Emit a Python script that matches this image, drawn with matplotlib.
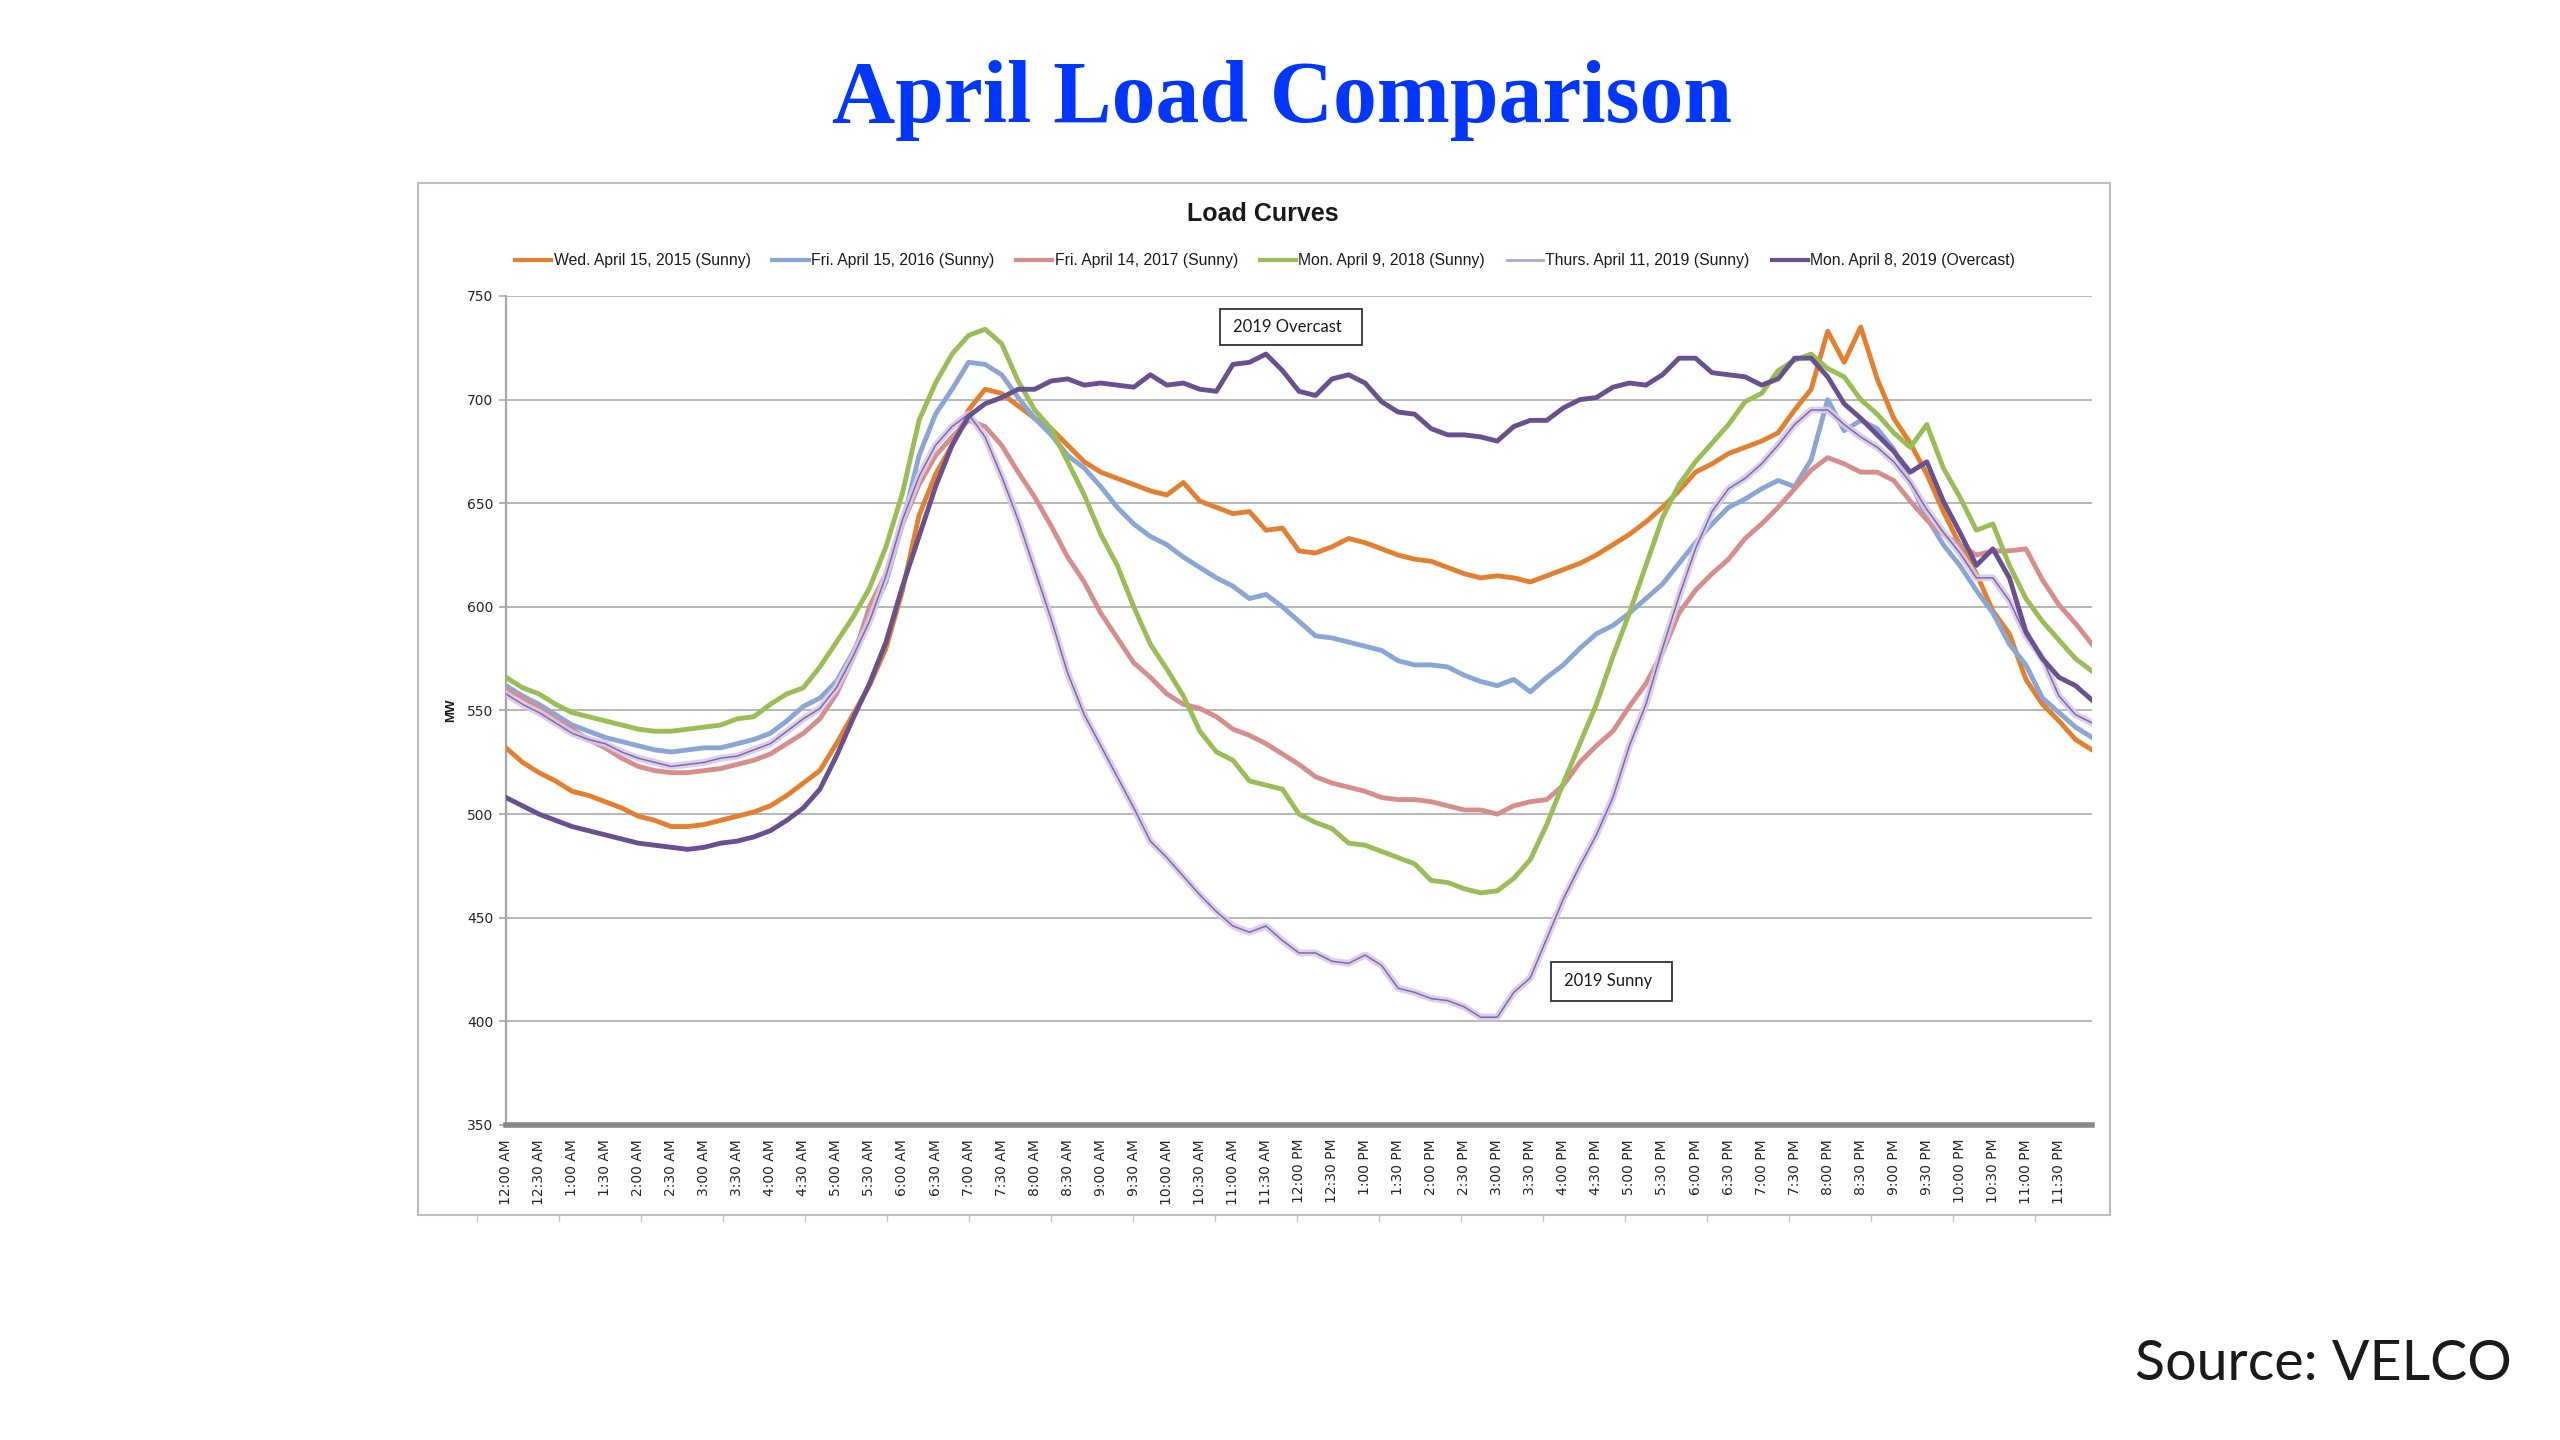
import numpy as np
import matplotlib
matplotlib.use("Agg")
import matplotlib.pyplot as plt
from matplotlib.lines import Line2D
from matplotlib.patches import Rectangle

# ---------------- data (MW, every 15 minutes from 12:00 AM to 12:00 AM) ----------------
hours = np.arange(97) * 0.25

load_2015 = [532, 525, 520, 516, 511, 509, 506, 503, 499, 497, 494, 494, 495, 497, 499, 501,
             504, 509, 515, 521, 534, 548, 562, 580, 608, 644, 664, 678, 695, 705, 703, 697,
             691, 686, 678, 670, 665, 662, 659, 656, 654, 660, 651, 648, 645, 646, 637, 638,
             627, 626, 629, 633, 631, 628, 625, 623, 622, 619, 616, 614, 615, 614, 612, 615,
             618, 621, 625, 630, 635, 641, 648, 656, 665, 669, 674, 677, 680, 684, 695, 705,
             733, 718, 735, 710, 691, 679, 664, 646, 630, 616, 598, 587, 565, 553, 545, 536, 531]

load_2016 = [562, 557, 553, 548, 543, 540, 537, 535, 533, 531, 530, 531, 532, 532, 534, 536,
             539, 545, 552, 556, 564, 578, 595, 612, 640, 673, 693, 705, 718, 717, 712, 701,
             691, 683, 673, 667, 658, 648, 640, 634, 630, 624, 619, 614, 610, 604, 606, 600,
             593, 586, 585, 583, 581, 579, 574, 572, 572, 571, 567, 564, 562, 565, 559, 566,
             572, 580, 587, 591, 597, 604, 611, 621, 631, 640, 648, 652, 657, 661, 658, 671,
             700, 685, 690, 686, 676, 660, 643, 630, 620, 608, 597, 582, 572, 556, 549, 542, 537]

load_2017 = [560, 556, 551, 546, 541, 536, 532, 527, 523, 521, 520, 520, 521, 522, 524, 526,
             529, 534, 539, 546, 558, 575, 600, 616, 640, 659, 673, 682, 690, 687, 678, 665,
             653, 639, 624, 612, 597, 585, 573, 566, 558, 553, 551, 547, 541, 538, 534, 529,
             524, 518, 515, 513, 511, 508, 507, 507, 506, 504, 502, 502, 500, 504, 506, 507,
             514, 525, 533, 540, 552, 563, 578, 597, 608, 616, 623, 633, 640, 648, 657, 666,
             672, 669, 665, 665, 661, 651, 642, 635, 630, 625, 627, 627, 628, 613, 601, 592, 582]

load_2018 = [566, 561, 558, 553, 549, 547, 545, 543, 541, 540, 540, 541, 542, 543, 546, 547,
             553, 558, 561, 571, 583, 595, 609, 629, 655, 690, 708, 722, 731, 734, 727, 709,
             695, 686, 670, 654, 635, 620, 600, 582, 570, 557, 540, 530, 526, 516, 514, 512,
             500, 496, 493, 486, 485, 482, 479, 476, 468, 467, 464, 462, 463, 469, 478, 495,
             515, 534, 553, 576, 597, 620, 643, 659, 670, 679, 688, 699, 703, 714, 719, 722,
             715, 711, 700, 693, 684, 677, 688, 667, 653, 637, 640, 620, 604, 593, 584, 575, 569]

load_2019_sunny = [558, 553, 549, 544, 539, 536, 534, 530, 527, 525, 523, 524, 525, 527, 528, 531,
                   534, 540, 546, 551, 561, 576, 593, 615, 642, 663, 678, 687, 693, 682, 663, 642,
                   618, 594, 568, 548, 533, 518, 503, 487, 479, 470, 461, 453, 446, 443, 446, 439,
                   433, 433, 429, 428, 432, 427, 416, 414, 411, 410, 407, 402, 402, 414, 421, 440,
                   459, 475, 490, 508, 533, 553, 580, 605, 628, 646, 657, 662, 669, 678, 688, 695,
                   695, 688, 682, 677, 670, 660, 647, 636, 626, 614, 614, 603, 586, 575, 557, 548, 544]

load_2019_overcast = [508, 504, 500, 497, 494, 492, 490, 488, 486, 485, 484, 483, 484, 486, 487, 489,
                      492, 497, 503, 512, 528, 546, 563, 583, 610, 634, 658, 678, 692, 698, 701, 705,
                      705, 709, 710, 707, 708, 707, 706, 712, 707, 708, 705, 704, 717, 718, 722, 714,
                      704, 702, 710, 712, 708, 699, 694, 693, 686, 683, 683, 682, 680, 687, 690, 690,
                      696, 700, 701, 706, 708, 707, 712, 720, 720, 713, 712, 711, 707, 710, 720, 720,
                      711, 698, 691, 683, 675, 665, 670, 651, 636, 620, 628, 614, 588, 575, 566, 562, 555]

series_labels = ["Wed. April 15, 2015 (Sunny)", "Fri. April 15, 2016 (Sunny)",
                 "Fri. April 14, 2017 (Sunny)", "Mon. April 9, 2018 (Sunny)",
                 "Thurs. April 11, 2019 (Sunny)", "Mon. April 8, 2019 (Overcast)"]

tick_hours = np.arange(48) * 0.5
def fmt_time(h):
    hh = int(h)
    mm = int(round((h - hh) * 60))
    ampm = "AM" if hh < 12 else "PM"
    h12 = hh % 12
    h12 = 12 if h12 == 0 else h12
    return f"{h12}:{mm:02d} {ampm}"
tick_labels = [fmt_time(h) for h in tick_hours]

y_ticks = [350, 400, 450, 500, 550, 600, 650, 700, 750]

# ---------------- styling ----------------
W, H = 2560, 1440
def fx(x):
    return x / W
def fy(y):
    return 1 - y / H

c_orange = "#E2802F"
c_blue = "#8AA6D4"
c_pink = "#D58E8C"
c_green = "#98BE55"
c_lav_glow = "#D6CBE8"
c_lav = "#8468AE"
c_lav_leg = "#B3A2CE"
c_purple = "#69508E"

fig = plt.figure(figsize=(25.6, 14.4), dpi=100)
fig.patch.set_facecolor("white")

ax = fig.add_axes([fx(506), fy(1125), (2092 - 506) / W, (1125 - 296) / H])

lw = 3.5
ax.plot(hours, load_2015, color=c_orange, lw=lw, zorder=3, solid_joinstyle="round")
ax.plot(hours, load_2016, color=c_blue, lw=lw, zorder=3, solid_joinstyle="round")
ax.plot(hours, load_2017, color=c_pink, lw=lw, zorder=3, solid_joinstyle="round")
ax.plot(hours, load_2018, color=c_green, lw=lw, zorder=3, solid_joinstyle="round")
ax.plot(hours, load_2019_sunny, color=c_lav_glow, lw=5.0, alpha=0.9, zorder=4, solid_joinstyle="round")
ax.plot(hours, load_2019_sunny, color=c_lav, lw=1.1, zorder=4)
ax.plot(hours, load_2019_overcast, color=c_purple, lw=lw, zorder=5, solid_joinstyle="round")

ax.set_xlim(0, 24)
ax.set_ylim(350, 750)
ax.set_yticks(y_ticks)
ax.set_yticklabels([str(v) for v in y_ticks], fontsize=10, family="DejaVu Sans", color="#262626")
ax.set_xticks(tick_hours)
ax.set_xticklabels(tick_labels, rotation=90, fontsize=10, family="DejaVu Sans", color="#262626",
                   va="top", ha="center")
ax.tick_params(axis="x", length=0, pad=10)
ax.tick_params(axis="y", length=5, width=1.2, color="#a6a6a6", pad=4)
ax.grid(axis="y", color="#a3a3a3", lw=1.1, zorder=0)
ax.set_axisbelow(True)
for s in ["top", "right"]:
    ax.spines[s].set_visible(False)
ax.spines["left"].set_color("#a6a6a6")
ax.spines["left"].set_linewidth(1.6)
ax.spines["bottom"].set_color("#878787")
ax.spines["bottom"].set_linewidth(4.0)
ax.spines["bottom"].set_zorder(6)

# chart frame
fig.add_artist(Rectangle((fx(418), fy(1215)), (2110 - 418) / W, (1215 - 183) / H,
                         transform=fig.transFigure, fill=False, edgecolor="#bdbdbd", lw=1.5, zorder=0))
for xt in np.arange(477, 2110, 82):
    fig.add_artist(Line2D([fx(xt), fx(xt)], [fy(1215), fy(1221)], transform=fig.transFigure,
                          color="#c8c8c8", lw=1.0))

# titles
fig.text(fx(1282), fy(122), "April Load Comparison", ha="center", va="baseline",
         fontsize=63, fontweight="bold", family="Liberation Serif", color="#0036FF")
fig.text(fx(1263), fy(214), "Load Curves", ha="center", va="center",
         fontsize=18, fontweight="bold", family="Liberation Sans", color="#1a1a1a")
fig.text(fx(451), fy(710), "MW", ha="center", va="center", rotation=90,
         fontsize=9.5, fontweight="bold", family="Liberation Sans", color="#1a1a1a")

# legend
handles = [Line2D([], [], color=c_orange, lw=3),
           Line2D([], [], color=c_blue, lw=3),
           Line2D([], [], color=c_pink, lw=3),
           Line2D([], [], color=c_green, lw=3),
           Line2D([], [], color=c_lav_leg, lw=2),
           Line2D([], [], color=c_purple, lw=3)]
fig.legend(handles, series_labels, loc="center", bbox_to_anchor=(fx(1265), fy(261)), ncol=6,
           frameon=False, prop={"family": "Liberation Sans", "size": 11.3},
           handlelength=2.3, handletextpad=0.15, columnspacing=1.4, labelcolor="#1a1a1a")

# annotation boxes
fig.add_artist(Rectangle((fx(1220), fy(345)), (1362 - 1220) / W, (345 - 309) / H,
                         transform=fig.transFigure, facecolor="white", edgecolor="#333333", lw=1.3, zorder=8))
fig.text(fx(1233), fy(327), "2019 Overcast", ha="left", va="center", fontsize=12,
         family="Lato", color="#1a1a1a", zorder=9)
fig.add_artist(Rectangle((fx(1551), fy(1001)), (1672 - 1551) / W, (1001 - 962) / H,
                         transform=fig.transFigure, facecolor="white", edgecolor="#333333", lw=1.3, zorder=8))
fig.text(fx(1564), fy(981), "2019 Sunny", ha="left", va="center", fontsize=12,
         family="Lato", color="#1a1a1a", zorder=9)

# source
fig.text(fx(2512), fy(1364), "Source: VELCO", ha="right", va="center", fontsize=40,
         family="Lato", color="#1a1a1a")

fig.savefig("out.png", dpi=100, facecolor="white")
